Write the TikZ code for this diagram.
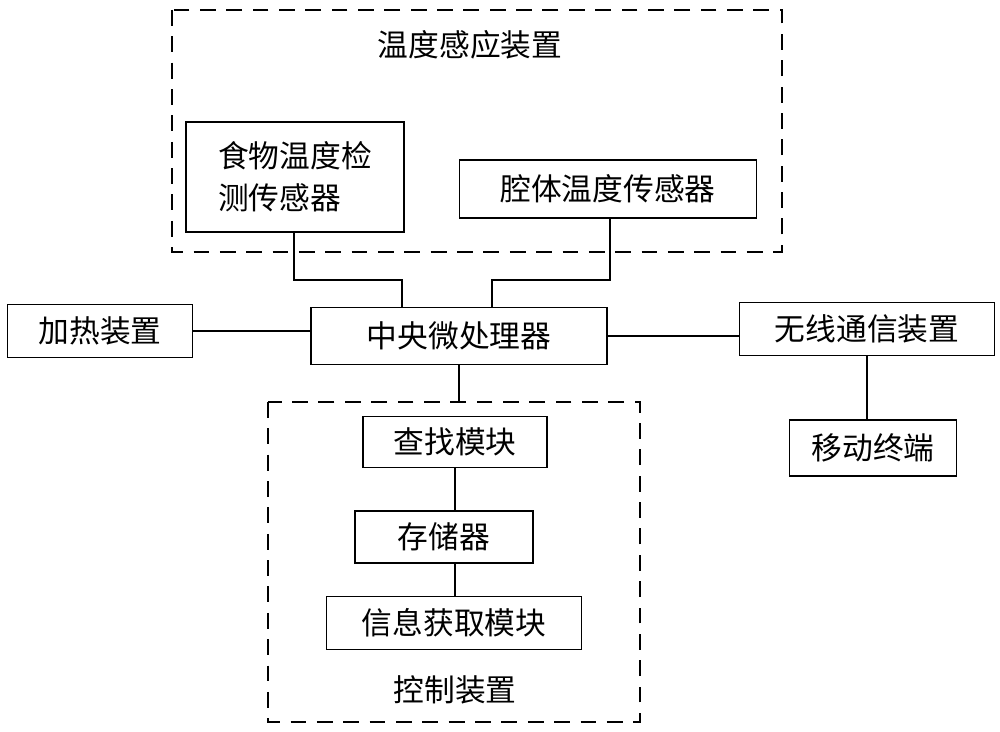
\documentclass[tikz,border=0pt]{standalone}
\usepackage{fontspec}
\setmainfont{Noto Sans CJK SC}
\usetikzlibrary{positioning}
\tikzset{
  box/.style={draw,thick,inner sep=0pt,font=\fontsize{17.5}{24}\selectfont,align=center},
  group/.style={draw,thick,dashed,dash pattern=on 9pt off 6pt},
  link/.style={thick}
}
\begin{document}
\begin{tikzpicture}[x=0.02cm,y=-0.02cm]
    \useasboundingbox (0,0) rectangle (1000,732);
    % dashed groups
    \draw[group] (172,10) rectangle (782,252);
    \node[font=\fontsize{17.5}{20}\selectfont] (tlabel) at (470,45) {温度感应装置};
    \draw[group] (268,402) rectangle (640,722);
    \node[font=\fontsize{17.5}{20}\selectfont] (clabel) at (455,690) {控制装置};

    % sensors
    \node[box,align=left,minimum width=4.36cm,minimum height=2.2cm] (food) at (295,177) {食物温度检\\测传感器};
    \node[box,minimum width=5.94cm,minimum height=1.16cm] (cavity) at (608,189) {腔体温度传感器};

    % main row
    \node[box,minimum width=5.92cm,minimum height=1.14cm] (cpu) at (459,336) {中央微处理器};
    \node[box,minimum width=3.7cm,minimum height=1.06cm] (heat) at (100,331) {加热装置};
    \node[box,minimum width=5.1cm,minimum height=1.06cm] (wifi) at (867,329) {无线通信装置};
    \node[box,minimum width=3.34cm,minimum height=1.12cm] (mobile) at (873,448) {移动终端};

    % control modules
    \node[box,minimum width=3.68cm,minimum height=1.02cm] (find) at (455,442) {查找模块};
    \node[box,minimum width=3.56cm,minimum height=1.04cm] (mem) at (444,537) {存储器};
    \node[box,minimum width=5.1cm,minimum height=1.06cm] (info) at (454,623) {信息获取模块};

    % connectors
    \draw[link] (food.south -| 294,0) |- (402,280) -- (cpu.north -| 402,0);
    \draw[link] (cavity.south -| 610,0) |- (492,280) -- (cpu.north -| 492,0);
    \draw[link] (heat.east) -- (heat.east -| cpu.west);
    \draw[link] (cpu.east) -- (cpu.east -| wifi.west);
    \draw[link] (wifi.south) -- (mobile.north -| wifi.south);
    \draw[link] (cpu.south) -- (459,402);
    \draw[link] (find.south) -- (mem.north -| find.south);
    \draw[link] (mem.south -| find.south) -- (info.north -| find.south);
\end{tikzpicture}
\end{document}
